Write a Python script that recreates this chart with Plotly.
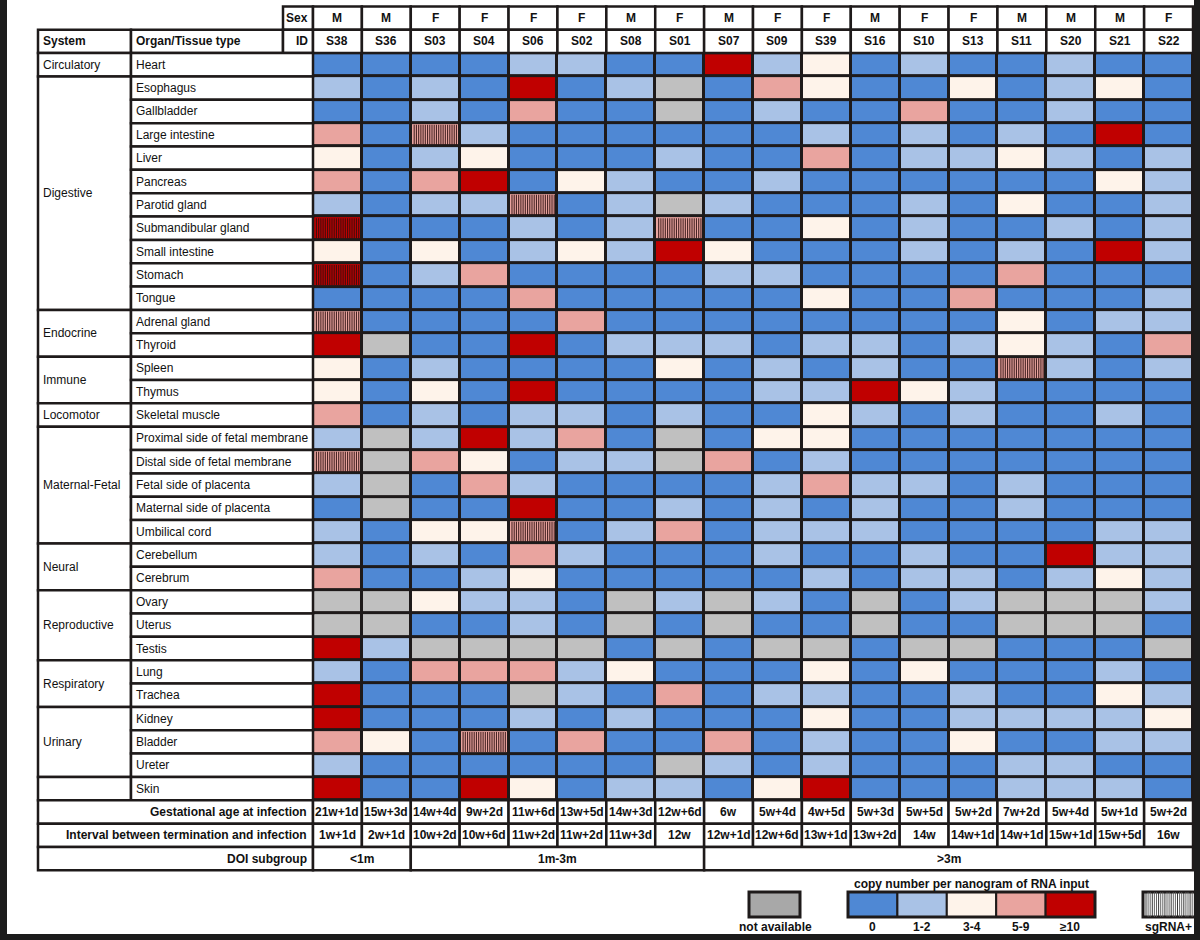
import plotly.graph_objects as go

# ---------------- data ----------------
sample_ids = ["S38", "S36", "S03", "S04", "S06", "S02", "S08", "S01", "S07",
              "S09", "S39", "S16", "S10", "S13", "S11", "S20", "S21", "S22"]
sexes = ["M", "M", "F", "F", "F", "F", "M", "F", "M",
         "F", "F", "M", "F", "F", "M", "M", "M", "F"]
gestational_age = ["21w+1d", "15w+3d", "14w+4d", "9w+2d", "11w+6d", "13w+5d", "14w+3d", "12w+6d", "6w",
                   "5w+4d", "4w+5d", "5w+3d", "5w+5d", "5w+2d", "7w+2d", "5w+4d", "5w+1d", "5w+2d"]
termination_interval = ["1w+1d", "2w+1d", "10w+2d", "10w+6d", "11w+2d", "11w+2d", "11w+3d", "12w", "12w+1d",
                        "12w+6d", "13w+1d", "13w+2d", "14w", "14w+1d", "14w+1d", "15w+1d", "15w+5d", "16w"]
doi_subgroups = ["<1m", "1m-3m", ">3m"]
doi_sizes = [2, 6, 10]

level_labels = ["0", "1-2", "3-4", "5-9", "≥10"]
level_colors = ["#4f88d4", "#a9c2e6", "#fef3ea", "#e9a49f", "#c00000"]
na_color = "#c0c0c0"
na_legend_color = "#a8a8a8"

system_names = ["Circulatory", "Digestive", "Endocrine", "Immune", "Locomotor",
                "Maternal-Fetal", "Neural", "Reproductive", "Respiratory", "Urinary", ""]
system_organs = [
    ["Heart"],
    ["Esophagus", "Gallbladder", "Large intestine", "Liver", "Pancreas", "Parotid gland",
     "Submandibular gland", "Small intestine", "Stomach", "Tongue"],
    ["Adrenal gland", "Thyroid"],
    ["Spleen", "Thymus"],
    ["Skeletal muscle"],
    ["Proximal side of fetal membrane", "Distal side of fetal membrane", "Fetal side of placenta",
     "Maternal side of placenta", "Umbilical cord"],
    ["Cerebellum", "Cerebrum"],
    ["Ovary", "Uterus", "Testis"],
    ["Lung", "Trachea"],
    ["Kidney", "Bladder", "Ureter"],
    ["Skin"],
]

# copy-number level per organ, one letter per sample (order of sample_ids)
# B = 0, L = 1-2, C = 3-4, P = 5-9, R = >=10, G = not available
circulatory_levels = ["BBBBLLBBRLCBLBBLBB"]
digestive_levels = [
    "LBLBRBLGBPCBBCBLCB",
    "BBLBPBBGBLBBPBBLBB",
    "PBPLBBBBBBLBLBLBRB",
    "CBLCBBBLBBPBLLCLBL",
    "PBPRBCLBBLBBBBBBCL",
    "LBLLPBLGLBBBLBCBBL",
    "RBBBLBLPBBCBLBBLBL",
    "CBCBLCLRCBBBLBLBRL",
    "RBLPBBBBLLBBBBPBBB",
    "BBBBPBBBBBCBBPBBBL",
]
endocrine_levels = ["PBBBBPBBBBBBBBCBLL", "RGBBRBLLLBLLBLCLBP"]
immune_levels = ["CBLBBBBCBLBLBBPLBL", "CBCBRBBBBLLRCLBBBB"]
locomotor_levels = ["PBLBLLBLBBCLBLBBLB"]
maternal_fetal_levels = [
    "LGLRLPBGBCCBBBBBBB",
    "PGPCBLLGPBLBBBBBBB",
    "LGBPLBBBBLPLLBLBBB",
    "BGBBRBBLBLBLBBLBBB",
    "LBCCPBLPBLLLBBBBLL",
]
neural_levels = ["LBLBPLBBBLBBLBBRLL", "PBBLCBBBBBLBLLBLCL"]
reproductive_levels = ["GGCLLBGLGLBGBLGGGL", "GGBBLBGBGBBGBBGGGB", "RLGGGGBGBGGBGGBBBG"]
respiratory_levels = ["LBPPPLCBBBCBCBBBLB", "RBBBGLBPBLLBBLBBCL"]
urinary_levels = ["RBBBLBLBBBCBBLLLLC", "PCBPBPBBPBLBBCBBLL", "LBBBBBBGLBLBBBLLBB"]
skin_levels = ["RBBRCBLLBCRBBBLLLB"]

sgrna_positive = [
    ("Large intestine", "S03"), ("Parotid gland", "S06"), ("Submandibular gland", "S38"),
    ("Submandibular gland", "S01"), ("Stomach", "S38"), ("Adrenal gland", "S38"),
    ("Spleen", "S11"), ("Distal side of fetal membrane", "S38"), ("Umbilical cord", "S06"),
    ("Bladder", "S04"),
]

# ---------------- build ----------------
all_levels = (circulatory_levels + digestive_levels + endocrine_levels + immune_levels +
              locomotor_levels + maternal_fetal_levels + neural_levels + reproductive_levels +
              respiratory_levels + urinary_levels + skin_levels)
organs = [o for grp in system_organs for o in grp]
code_map = {"B": 0, "L": 1, "C": 2, "P": 3, "R": 4, "G": 5}
z = [[code_map[ch] for ch in row] for row in all_levels]
n_rows, n_cols = len(organs), len(sample_ids)

colors6 = level_colors + [na_color]
colorscale = []
for k, c in enumerate(colors6):
    colorscale += [[k / 6, c], [(k + 1) / 6, c]]

# geometry (pixels -> axis units)
CW = 48.89      # column width px
RH = 23.35      # row height px
GX0 = 313.0     # left px of grid
GY0 = 53.1      # top px of grid


def ux(px):
    return -0.5 + (px - GX0) / CW


def uy(py):
    return -0.5 + (py - GY0) / RH


DARK = "#1e1a1a"
LW = 2.5
FONT = "Liberation Sans, Arial, sans-serif"

fig = go.Figure()
fig.add_trace(go.Heatmap(
    z=z, x=list(range(n_cols)), y=list(range(n_rows)),
    colorscale=colorscale, zmin=-0.5, zmax=5.5, showscale=False,
    xgap=3, ygap=3, hoverinfo="skip"))

# sgRNA+ stripes
stripe_offsets = [-0.43 + 0.0455 * k for k in range(20)]
sx, sy = [], []
for organ, sid in sgrna_positive:
    r = organs.index(organ)
    c = sample_ids.index(sid)
    for off in stripe_offsets:
        sx += [c + off, c + off, None]
        sy += [r - 0.43, r + 0.43, None]
fig.add_trace(go.Scatter(x=sx, y=sy, mode="lines",
                         line=dict(color="rgba(45,15,15,0.85)", width=1.1),
                         hoverinfo="skip", showlegend=False))

shapes = []
annotations = []


def rect(x0, y0, x1, y1, fill="white", lw=LW, layer="above", color=DARK):
    shapes.append(dict(type="rect", xref="x", yref="y", x0=x0, y0=y0, x1=x1, y1=y1,
                       fillcolor=fill, line=dict(color=color, width=lw), layer=layer))


def text(x, y, s, bold=False, anchor="center", size=12):
    annotations.append(dict(xref="x", yref="y", x=x, y=y, text=("<b>%s</b>" % s) if bold else s,
                            showarrow=False, xanchor=anchor, yanchor="middle",
                            font=dict(family=FONT, size=size, color="#111111")))


# dark backing behind grid (shows through cell gaps)
rect(ux(GX0 - 1.5), -0.5 - 1.5 / RH, ux(GX0 + n_cols * CW + 1.5), n_rows - 0.5 + 1.5 / RH,
     fill=DARK, lw=0, layer="below")

# header rows
rect(ux(283), -2.5, -0.5, -1.5)
text(ux(310), -2, "Sex", bold=True, anchor="right")
rect(ux(38), -1.5, ux(131), -0.5)
rect(ux(131), -1.5, ux(283), -0.5)
rect(ux(283), -1.5, -0.5, -0.5)
text(ux(41), -1, "System", bold=True, anchor="left")
text(ux(134), -1, "Organ/Tissue type", bold=True, anchor="left")
text(ux(310), -1, "ID", bold=True, anchor="right")
for i in range(n_cols):
    rect(i - 0.5, -2.5, i + 0.5, -1.5)
    rect(i - 0.5, -1.5, i + 0.5, -0.5)
    text(i, -2, sexes[i], bold=True)
    text(i, -1, sample_ids[i], bold=True)

# system / organ label columns
r0 = 0
for name, grp in zip(system_names, system_organs):
    n = len(grp)
    rect(ux(38), r0 - 0.5, ux(131), r0 + n - 0.5)
    if name:
        text(ux(41), r0 + (n - 1) / 2, name, anchor="left")
    for k, org in enumerate(grp):
        rect(ux(131), r0 + k - 0.5, -0.5, r0 + k + 0.5)
        text(ux(134), r0 + k, org, anchor="left")
    r0 += n

# footer rows
footer = [("Gestational age at infection", gestational_age),
          ("Interval between termination and infection", termination_interval)]
for j, (lab, vals) in enumerate(footer):
    rr = n_rows + j
    rect(ux(38), rr - 0.5, -0.5, rr + 0.5)
    text(ux(309), rr, lab, bold=True, anchor="right")
    for i in range(n_cols):
        rect(i - 0.5, rr - 0.5, i + 0.5, rr + 0.5)
        text(i, rr, vals[i], bold=True)
rr = n_rows + 2
rect(ux(38), rr - 0.5, -0.5, rr + 0.5)
text(ux(309), rr, "DOI subgroup", bold=True, anchor="right")
c0 = 0
for lab, n in zip(doi_subgroups, doi_sizes):
    rect(c0 - 0.5, rr - 0.5, c0 + n - 0.5, rr + 0.5)
    text(c0 + (n - 1) / 2, rr, lab, bold=True)
    c0 += n

# legend
ly0, ly1 = uy(892), uy(917)
lab_y = uy(927)
rect(ux(749), ly0, ux(800), ly1, fill=na_legend_color, lw=3)
text(ux(775), lab_y, "not available", bold=True)
sw = (1095 - 848) / len(level_colors)
for k, (col, lab) in enumerate(zip(level_colors, level_labels)):
    rect(ux(848 + k * sw), ly0, ux(848 + (k + 1) * sw), ly1, fill=col, lw=2)
    text(ux(848 + (k + 0.5) * sw), lab_y, lab, bold=True)
rect(ux(848), ly0, ux(1095), ly1, fill="rgba(0,0,0,0)", lw=3)
text(ux(971), uy(884), "copy number per nanogram of RNA input", bold=True)
rect(ux(1143), ly0, ux(1196), ly1, fill="white", lw=3)
for k in range(24):
    xp = 1146 + k * 2.1
    shapes.append(dict(type="line", xref="x", yref="y", x0=ux(xp), x1=ux(xp), y0=ly0, y1=ly1,
                       line=dict(color="#555555" if k % 3 else "#222222", width=0.9)))
text(ux(1168), lab_y, "sgRNA+", bold=True)

# dark photo frame edges
rect(ux(0), uy(0), ux(7), uy(940), fill="#1c1c1c", lw=0)
rect(ux(1194), uy(0), ux(1200), uy(940), fill="#1c1c1c", lw=0)
rect(ux(0), uy(934), ux(1200), uy(940), fill="#1c1c1c", lw=0)

fig.update_layout(
    width=1200, height=940, margin=dict(l=0, r=0, t=0, b=0),
    paper_bgcolor="white", plot_bgcolor="white", showlegend=False,
    xaxis=dict(range=[ux(0), ux(1200)], domain=[0, 1], visible=False, fixedrange=True),
    yaxis=dict(range=[uy(940), uy(0)], domain=[0, 1], visible=False, fixedrange=True),
    shapes=shapes, annotations=annotations,
)
fig.write_html(
    "out.html",
    config={"displayModeBar": False},
    post_script="document.body.style.margin='0';document.body.style.overflow='hidden';"
                "document.documentElement.style.overflow='hidden';",
)
